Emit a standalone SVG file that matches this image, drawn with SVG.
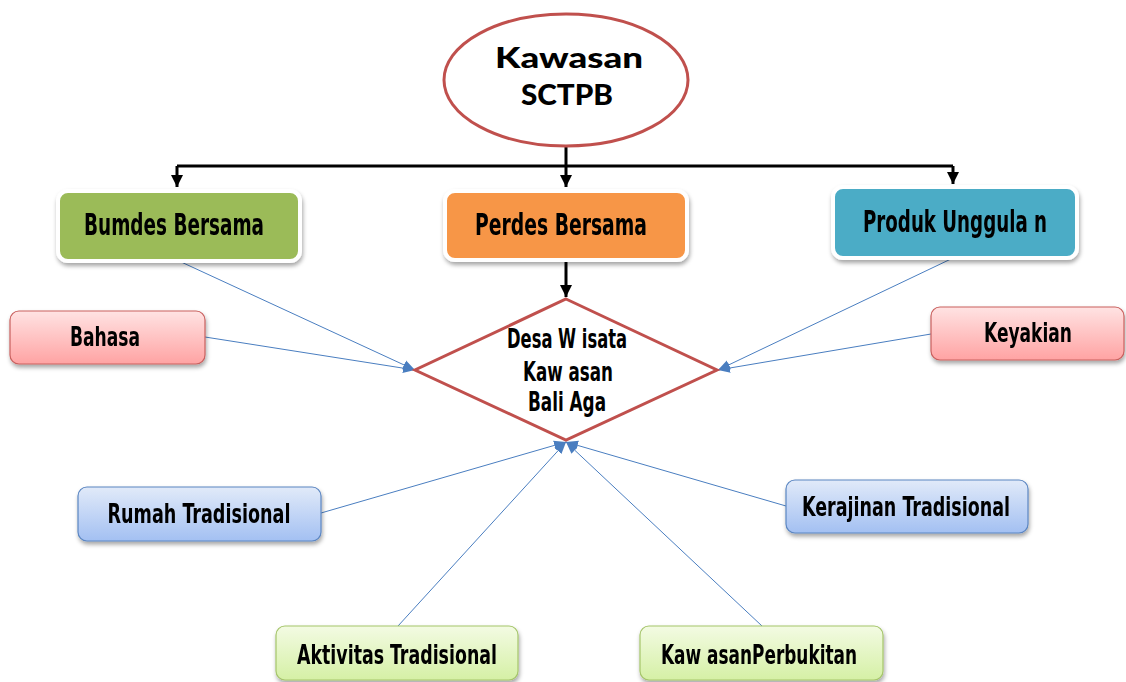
<svg xmlns="http://www.w3.org/2000/svg" width="1126" height="682" viewBox="0 0 1126 682">
<defs>
<filter id="sh" x="-10%" y="-20%" width="125%" height="150%">
<feDropShadow dx="1" dy="3" stdDeviation="2" flood-color="#000" flood-opacity="0.35"/>
</filter>
<linearGradient id="gPink" x1="0" y1="0" x2="0" y2="1">
<stop offset="0" stop-color="#FFE3E3"/><stop offset="1" stop-color="#FFA3A3"/>
</linearGradient>
<linearGradient id="gBlue" x1="0" y1="0" x2="0" y2="1">
<stop offset="0" stop-color="#E1EAF9"/><stop offset="1" stop-color="#A3C0F2"/>
</linearGradient>
<linearGradient id="gGreen" x1="0" y1="0" x2="0" y2="1">
<stop offset="0" stop-color="#F3FBE3"/><stop offset="1" stop-color="#D5F0A5"/>
</linearGradient>
<marker id="aBlk" viewBox="0 0 10 10" refX="10" refY="5" markerWidth="4" markerHeight="4" orient="auto">
<path d="M0,0 L10,5 L0,10 z" fill="#000"/>
</marker>
<marker id="aBlu" viewBox="0 0 10 10" refX="10" refY="5" markerWidth="12" markerHeight="12" orient="auto" markerUnits="userSpaceOnUse">
<path d="M0,1 L10,5 L0,9 z" fill="#4A7EC0"/>
</marker>
<style>
.lbl{font-family:"DejaVu Sans Condensed","DejaVu Sans",sans-serif;font-weight:bold;fill:#000;}
.top{stroke:#fff;stroke-width:4;}
.blk{stroke:#000;stroke-width:3;fill:none;}
.blu{stroke:#4A7EC0;stroke-width:1;fill:none;}
.pink{fill:url(#gPink);stroke:#C9605E;stroke-width:1.2;}
.blue{fill:url(#gBlue);stroke:#5B86C2;stroke-width:1.2;}
.green{fill:url(#gGreen);stroke:#A5C56A;stroke-width:1.2;}
</style>
</defs>
<rect width="1126" height="682" fill="#fff"/>

<g id="connectors">
<path class="blk" d="M566,146 V166"/>
<path class="blk" d="M177,166 H953"/>
<path class="blk" d="M177,166 V187" marker-end="url(#aBlk)"/>
<path class="blk" d="M566,166 V187" marker-end="url(#aBlk)"/>
<path class="blk" d="M953,166 V184" marker-end="url(#aBlk)"/>
<path class="blk" d="M566,261 V297" marker-end="url(#aBlk)"/>
<path class="blu" d="M179,261 L415,370" marker-end="url(#aBlu)"/>
<path class="blu" d="M205,337 L415,370" marker-end="url(#aBlu)"/>
<path class="blu" d="M953,258 L718,370" marker-end="url(#aBlu)"/>
<path class="blu" d="M931,334 L718,370" marker-end="url(#aBlu)"/>
<path class="blu" d="M321,513 L566,442" marker-end="url(#aBlu)"/>
<path class="blu" d="M786,506 L566,442" marker-end="url(#aBlu)"/>
<path class="blu" d="M398,626 L566,442" marker-end="url(#aBlu)"/>
<path class="blu" d="M762,626 L566,442" marker-end="url(#aBlu)"/>
</g>

<g id="kawasan">
<ellipse cx="566" cy="80" rx="122" ry="66" fill="#fff" stroke="#C0504D" stroke-width="3"/>
<text x="569" y="68" text-anchor="middle" font-family="Lato,'DejaVu Sans',sans-serif" font-weight="900" font-size="28" textLength="148" lengthAdjust="spacingAndGlyphs">Kawasan</text>
<text x="567" y="105" text-anchor="middle" font-family="Lato,'DejaVu Sans',sans-serif" font-weight="900" font-size="28" textLength="92" lengthAdjust="spacingAndGlyphs">SCTPB</text>
</g>

<g id="bumdes" filter="url(#sh)">
<rect class="top" x="58" y="191" width="242" height="70" rx="10" fill="#9BBB59"/>
<text class="lbl" x="84" y="235" font-size="31" textLength="180" lengthAdjust="spacingAndGlyphs">Bumdes  Bersama</text>
</g>

<g id="perdes" filter="url(#sh)">
<rect class="top" x="445" y="191" width="242" height="69" rx="10" fill="#F79646"/>
<text class="lbl" x="475" y="235" font-size="31" textLength="172" lengthAdjust="spacingAndGlyphs">Perdes  Bersama</text>
</g>

<g id="produk" filter="url(#sh)">
<rect class="top" x="833" y="187" width="244" height="71" rx="10" fill="#4BACC6"/>
<text class="lbl" x="863" y="232" font-size="31" textLength="184" lengthAdjust="spacingAndGlyphs">Produk  Unggula n</text>
</g>

<g id="desa">
<polygon points="566,299 717,370 566,440 415,370" fill="#fff" stroke="#C0504D" stroke-width="3"/>
<text class="lbl" x="567" y="348" font-size="27" text-anchor="middle" textLength="120" lengthAdjust="spacingAndGlyphs">Desa W isata</text>
<text class="lbl" x="568" y="381" font-size="27" text-anchor="middle" textLength="90" lengthAdjust="spacingAndGlyphs">Kaw asan</text>
<text class="lbl" x="567" y="411" font-size="27" text-anchor="middle" textLength="78" lengthAdjust="spacingAndGlyphs">Bali Aga</text>
</g>

<g id="bahasa" filter="url(#sh)">
<rect class="pink" x="10" y="311" width="195" height="53" rx="9"/>
<text class="lbl" x="105" y="346" font-size="27" text-anchor="middle" textLength="70" lengthAdjust="spacingAndGlyphs">Bahasa</text>
</g>

<g id="keyakian" filter="url(#sh)">
<rect class="pink" x="931" y="307" width="193" height="53" rx="9"/>
<text class="lbl" x="1028" y="342" font-size="27" text-anchor="middle" textLength="88" lengthAdjust="spacingAndGlyphs">Keyakian</text>
</g>

<g id="rumah" filter="url(#sh)">
<rect class="blue" x="78" y="487" width="243" height="54" rx="9"/>
<text class="lbl" x="199" y="523" font-size="26" text-anchor="middle" textLength="183" lengthAdjust="spacingAndGlyphs">Rumah Tradisional</text>
</g>

<g id="kerajinan" filter="url(#sh)">
<rect class="blue" x="786" y="480" width="242" height="53" rx="9"/>
<text class="lbl" x="906" y="516" font-size="26" text-anchor="middle" textLength="208" lengthAdjust="spacingAndGlyphs">Kerajinan Tradisional</text>
</g>

<g id="aktivitas" filter="url(#sh)">
<rect class="green" x="276" y="626" width="242" height="54" rx="9"/>
<text class="lbl" x="397" y="664" font-size="26" text-anchor="middle" textLength="200" lengthAdjust="spacingAndGlyphs">Aktivitas Tradisional</text>
</g>

<g id="perbukitan" filter="url(#sh)">
<rect class="green" x="640" y="626" width="243" height="54" rx="9"/>
<text class="lbl" x="759" y="664" font-size="26" text-anchor="middle" textLength="196" lengthAdjust="spacingAndGlyphs">Kaw asanPerbukitan</text>
</g>
</svg>
